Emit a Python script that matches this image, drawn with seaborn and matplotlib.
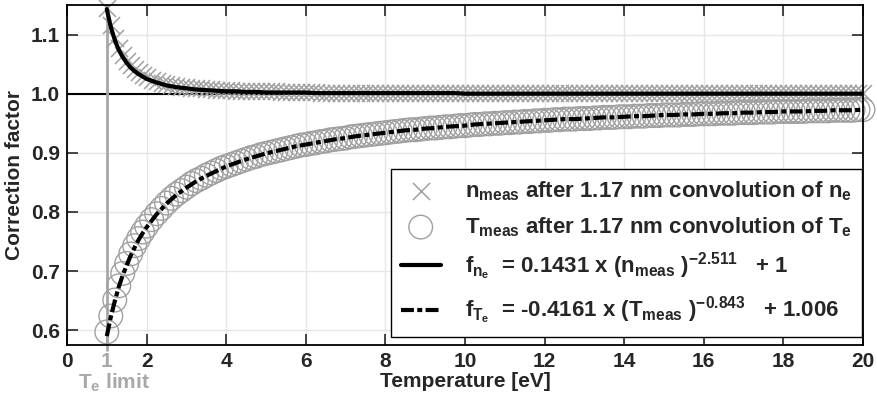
import numpy as np
import pandas as pd
import matplotlib
matplotlib.use('Agg')
import matplotlib.pyplot as plt
import matplotlib.transforms as mtransforms
import seaborn as sns

# Temperature of the measured points (eV)
temp_meas = [1.0, 1.1, 1.2, 1.3, 1.4, 1.5, 1.6, 1.7, 1.8, 1.9, 2.0,
             2.125, 2.25, 2.375, 2.5, 2.625, 2.75, 2.875, 3.0,
             3.125, 3.25, 3.375, 3.5, 3.625, 3.75, 3.875, 4.0,
             4.125, 4.25, 4.375, 4.5, 4.625, 4.75, 4.875, 5.0,
             5.125, 5.25, 5.375, 5.5, 5.625, 5.75, 5.875, 6.0,
             6.125, 6.25, 6.375, 6.5, 6.625, 6.75, 6.875, 7.0,
             7.125, 7.25, 7.375, 7.5, 7.625, 7.75, 7.875, 8.0,
             8.125, 8.25, 8.375, 8.5, 8.625, 8.75, 8.875, 9.0,
             9.125, 9.25, 9.375, 9.5, 9.625, 9.75, 9.875, 10.0,
             10.125, 10.25, 10.375, 10.5, 10.625, 10.75, 10.875, 11.0,
             11.125, 11.25, 11.375, 11.5, 11.625, 11.75, 11.875, 12.0,
             12.125, 12.25, 12.375, 12.5, 12.625, 12.75, 12.875, 13.0,
             13.125, 13.25, 13.375, 13.5, 13.625, 13.75, 13.875, 14.0,
             14.125, 14.25, 14.375, 14.5, 14.625, 14.75, 14.875, 15.0,
             15.125, 15.25, 15.375, 15.5, 15.625, 15.75, 15.875, 16.0,
             16.125, 16.25, 16.375, 16.5, 16.625, 16.75, 16.875, 17.0,
             17.125, 17.25, 17.375, 17.5, 17.625, 17.75, 17.875, 18.0,
             18.125, 18.25, 18.375, 18.5, 18.625, 18.75, 18.875, 19.0,
             19.125, 19.25, 19.375, 19.5, 19.625, 19.75, 19.875, 20.0]

# n_meas after convolution of n_e (x markers)
n_meas = [1.145, 1.116, 1.094, 1.078, 1.066, 1.056, 1.048, 1.041, 1.036, 1.032, 1.028,
          1.024, 1.021, 1.018, 1.016, 1.015, 1.013, 1.012, 1.011,
          1.010, 1.009, 1.009, 1.008, 1.008, 1.007, 1.007, 1.006,
          1.006, 1.005, 1.005, 1.005, 1.004, 1.004, 1.004, 1.004,
          1.004, 1.004, 1.003, 1.003, 1.003, 1.003, 1.003, 1.003,
          1.003, 1.003, 1.002, 1.002, 1.002, 1.002, 1.002, 1.002,
          1.002, 1.002, 1.002, 1.002, 1.002, 1.002, 1.002, 1.002,
          1.001, 1.001, 1.001, 1.001, 1.001, 1.001, 1.001, 1.001,
          1.001, 1.001, 1.001, 1.001, 1.001, 1.001, 1.001, 1.001,
          1.001, 1.001, 1.001, 1.001, 1.001, 1.001, 1.001, 1.001,
          1.001, 1.001, 1.001, 1.001, 1.001, 1.001, 1.001, 1.001,
          1.001, 1.001, 1.001, 1.001, 1.001, 1.001, 1.001, 1.001,
          1.001, 1.001, 1.001, 1.001, 1.001, 1.001, 1.001, 1.001,
          1.001, 1.001, 1.001, 1.001, 1.001, 1.001, 1.001, 1.001,
          1.001, 1.001, 1.001, 1.001, 1.001, 1.001, 1.001, 1.001,
          1.001, 1.001, 1.001, 1.001, 1.001, 1.001, 1.001, 1.001,
          1.001, 1.001, 1.001, 1.001, 1.001, 1.001, 1.001, 1.001,
          1.001, 1.001, 1.001, 1.001, 1.001, 1.001, 1.001, 1.001,
          1.001, 1.001, 1.001, 1.001, 1.001, 1.001, 1.001, 1.001]

# T_meas after convolution of T_e (circles)
T_meas = [0.597, 0.624, 0.651, 0.675, 0.696, 0.713, 0.729, 0.743, 0.755, 0.766, 0.776,
          0.787, 0.797, 0.806, 0.815, 0.823, 0.830, 0.836, 0.842,
          0.848, 0.853, 0.857, 0.862, 0.866, 0.870, 0.874, 0.877,
          0.880, 0.883, 0.886, 0.889, 0.892, 0.894, 0.897, 0.899,
          0.901, 0.903, 0.905, 0.907, 0.909, 0.911, 0.913, 0.914,
          0.916, 0.917, 0.919, 0.920, 0.922, 0.923, 0.924, 0.925,
          0.927, 0.928, 0.929, 0.930, 0.931, 0.932, 0.933, 0.934,
          0.935, 0.936, 0.937, 0.938, 0.939, 0.939, 0.940, 0.941,
          0.942, 0.942, 0.943, 0.944, 0.944, 0.945, 0.946, 0.946,
          0.947, 0.948, 0.948, 0.949, 0.949, 0.950, 0.950, 0.951,
          0.951, 0.952, 0.952, 0.953, 0.953, 0.954, 0.954, 0.955,
          0.955, 0.956, 0.956, 0.957, 0.957, 0.957, 0.958, 0.958,
          0.958, 0.959, 0.959, 0.960, 0.960, 0.960, 0.961, 0.961,
          0.961, 0.962, 0.962, 0.962, 0.963, 0.963, 0.963, 0.964,
          0.964, 0.964, 0.964, 0.965, 0.965, 0.965, 0.966, 0.966,
          0.966, 0.966, 0.967, 0.967, 0.967, 0.967, 0.968, 0.968,
          0.968, 0.968, 0.969, 0.969, 0.969, 0.969, 0.970, 0.970,
          0.970, 0.970, 0.970, 0.970, 0.971, 0.971, 0.971, 0.971,
          0.971, 0.972, 0.972, 0.972, 0.972, 0.972, 0.973, 0.973]

# fitted correction curves
temp_fit = [1.0, 1.1, 1.2, 1.3, 1.4, 1.5, 1.6, 1.7, 1.8, 1.9, 2.0,
            2.25, 2.5, 2.75, 3.0, 3.25, 3.5, 3.75, 4.0,
            4.25, 4.5, 4.75, 5.0, 5.25, 5.5, 5.75, 6.0,
            6.25, 6.5, 6.75, 7.0, 7.25, 7.5, 7.75, 8.0,
            8.25, 8.5, 8.75, 9.0, 9.25, 9.5, 9.75, 10.0,
            10.25, 10.5, 10.75, 11.0, 11.25, 11.5, 11.75, 12.0,
            12.25, 12.5, 12.75, 13.0, 13.25, 13.5, 13.75, 14.0,
            14.25, 14.5, 14.75, 15.0, 15.25, 15.5, 15.75, 16.0,
            16.25, 16.5, 16.75, 17.0, 17.25, 17.5, 17.75, 18.0,
            18.25, 18.5, 18.75, 19.0, 19.25, 19.5, 19.75, 20.0]

n_fit = [1.143, 1.113, 1.091, 1.074, 1.062, 1.052, 1.044, 1.038, 1.033, 1.029, 1.025,
         1.019, 1.014, 1.011, 1.009, 1.007, 1.006, 1.005, 1.004,
         1.004, 1.003, 1.003, 1.002, 1.002, 1.002, 1.002, 1.002,
         1.001, 1.001, 1.001, 1.001, 1.001, 1.001, 1.001, 1.001,
         1.001, 1.001, 1.001, 1.001, 1.001, 1.001, 1.001, 1.000,
         1.000, 1.000, 1.000, 1.000, 1.000, 1.000, 1.000, 1.000,
         1.000, 1.000, 1.000, 1.000, 1.000, 1.000, 1.000, 1.000,
         1.000, 1.000, 1.000, 1.000, 1.000, 1.000, 1.000, 1.000,
         1.000, 1.000, 1.000, 1.000, 1.000, 1.000, 1.000, 1.000,
         1.000, 1.000, 1.000, 1.000, 1.000, 1.000, 1.000, 1.000]

T_fit = [0.590, 0.622, 0.649, 0.673, 0.693, 0.710, 0.726, 0.740, 0.753, 0.764, 0.774,
         0.796, 0.814, 0.829, 0.841, 0.852, 0.861, 0.869, 0.877,
         0.883, 0.889, 0.894, 0.899, 0.903, 0.907, 0.911, 0.914,
         0.917, 0.920, 0.923, 0.925, 0.928, 0.930, 0.932, 0.934,
         0.936, 0.938, 0.939, 0.941, 0.942, 0.944, 0.945, 0.946,
         0.948, 0.949, 0.950, 0.951, 0.952, 0.953, 0.954, 0.955,
         0.956, 0.957, 0.957, 0.958, 0.959, 0.960, 0.960, 0.961,
         0.962, 0.962, 0.963, 0.964, 0.964, 0.965, 0.965, 0.966,
         0.966, 0.967, 0.967, 0.968, 0.968, 0.969, 0.969, 0.970,
         0.970, 0.970, 0.971, 0.971, 0.972, 0.972, 0.972, 0.973]

x_ticks = [0, 1, 2, 4, 6, 8, 10, 12, 14, 16, 18, 20]
x_ticklabels = ['0', '1', '2', '4', '6', '8', '10', '12', '14', '16', '18', '20']
y_ticks = [0.6, 0.7, 0.8, 0.9, 1.0, 1.1]
y_ticklabels = ['0.6', '0.7', '0.8', '0.9', '1.0', '1.1']
te_limit = 1.0

labels = [r'$n_{meas}$ after 1.17 nm convolution of $n_e$',
          r'$T_{meas}$ after 1.17 nm convolution of $T_e$',
          r'$f_{n_e}$  = 0.1431 $\mathsf{x}$ ($n_{meas}$ )$^{-2.511}$   + 1',
          r'$f_{T_e}$  = -0.4161 $\mathsf{x}$ ($T_{meas}$ )$^{-0.843}$   + 1.006']

df_meas = pd.DataFrame({'T': temp_meas, 'n_meas': n_meas, 'T_meas': T_meas})
df_fit = pd.DataFrame({'T': temp_fit, 'n_fit': n_fit, 'T_fit': T_fit})

sns.set_style('ticks')
plt.rcParams['font.family'] = ['Liberation Sans', 'DejaVu Sans']
plt.rcParams['font.weight'] = 'bold'
plt.rcParams['axes.labelweight'] = 'bold'
plt.rcParams['mathtext.fontset'] = 'custom'
plt.rcParams['mathtext.rm'] = 'Liberation Sans:bold'
plt.rcParams['mathtext.it'] = 'Liberation Sans:bold'
plt.rcParams['mathtext.bf'] = 'Liberation Sans:bold'
plt.rcParams['mathtext.sf'] = 'Liberation Sans'

gray = '#a0a0a0'
fig = plt.figure(figsize=(8.77, 4.01), dpi=100)
ax = fig.add_axes([0.0764, 0.1397, 0.9076, 0.8478])

ax.grid(True, color='#e6e6e6', lw=1)
ax.set_axisbelow(True)
ax.axhline(1.0, color='black', lw=1.5, zorder=1)
ax.axvline(te_limit, ymin=-0.015, color='#a8a8a8', lw=2, zorder=1, clip_on=False)

sns.scatterplot(data=df_meas, x='T', y='n_meas', marker='x', s=150, color=gray,
                linewidth=1.1, label=labels[0], ax=ax, clip_on=False, zorder=2)
sns.scatterplot(data=df_meas, x='T', y='T_meas', marker='o', s=290, facecolor='none',
                edgecolor=gray, linewidth=1.0, label=labels[1], ax=ax, clip_on=False, zorder=2)
sns.lineplot(data=df_fit, x='T', y='n_fit', color='black', lw=3, label=labels[2], ax=ax, zorder=3)
sns.lineplot(data=df_fit, x='T', y='T_fit', color='black', lw=3, label=labels[3], ax=ax, zorder=3,
             linestyle=(0, (3.1, 0.8, 1.2, 0.8)))

ax.set_xlim(0, 20)
ax.set_ylim(0.575, 1.15)
ax.set_xticks(x_ticks, x_ticklabels)
ax.set_yticks(y_ticks, y_ticklabels)
ax.get_xticklabels()[1].set_color('#a8a8a8')
ax.tick_params(direction='in', length=8, width=1.2, top=True, right=True, labelsize=15, pad=5)
for sp in ax.spines.values():
    sp.set_linewidth(1.3)
    sp.set_color('black')

ax.set_xlabel('Temperature [eV]', fontsize=15, labelpad=1)
ax.set_ylabel('Correction factor', fontsize=15, labelpad=5)

trans = mtransforms.blended_transform_factory(ax.transData, ax.transAxes)
ax.text(1.18, -0.112, r'$T_e$ limit', transform=trans, ha='center', va='center',
        fontsize=15, color='#a8a8a8')

ax.legend(loc='lower right', bbox_to_anchor=(0.9987, 0.0235), borderaxespad=0,
          fontsize=16, frameon=True, fancybox=False, framealpha=1, edgecolor='black',
          labelspacing=0.55, handlelength=1.8, handletextpad=1.1, borderpad=0.45)

fig.savefig('out.png', dpi=100)
